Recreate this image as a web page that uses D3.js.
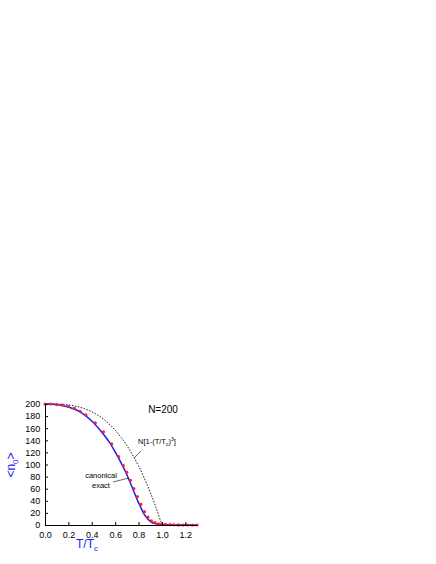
<!DOCTYPE html>
<html><head><meta charset="utf-8">
<script src="https://cdn.jsdelivr.net/npm/d3@7"></script>
<style>body{margin:0;background:#fff}text{font-family:"Liberation Sans",Arial,sans-serif}</style>
</head><body><div id="chart"></div>
<script>
// canonical points (red) and exact curve (blue)
var canonT = [0,0.05,0.1,0.15,0.2,0.25,0.3,0.35,0.43,0.5,0.57,0.63,0.67,0.7,0.73,0.76,0.79,0.82,0.85,0.88,0.91,0.94,0.97,1.0,1.03,1.07,1.1,1.14,1.18,1.22,1.26,1.3];
var canonN = [200,200,199,198,196,193,188,182,169,154,134,113,98,87,74,60,47,34,22,13,7,4,2,1.5,1,0.5,0.3,0.2,0,0,0,0];
var exactT = [0,0.1,0.2,0.3,0.4,0.5,0.55,0.6,0.65,0.7,0.75,0.8,0.85,0.9,0.95,1.0,1.1,1.2,1.3];
var exactN = [200,199,195,187,172,150,137,121,103,83,60,37,17,6,2,0.8,0.2,0,0];
// N[1-(T/Tc)^3]
var bulkT = [0,0.1,0.2,0.3,0.4,0.5,0.6,0.7,0.75,0.8,0.85,0.9,0.95,1.0];
var bulkN = [200,199.8,198.4,194.6,187.2,175,156.8,131.4,115.6,97.6,77.2,54.2,28.5,0];
var xTicks = [0,0.2,0.4,0.6,0.8,1.0,1.2];
var yTicks = d3.range(0,201,20);

var svg = d3.select("#chart").append("svg").attr("width",436).attr("height",564);
var x = d3.scaleLinear().domain([0,1.3]).range([45,197]);
var y = d3.scaleLinear().domain([0,200]).range([525,404]);

var line = d3.line().x(d=>x(d[0])).y(d=>y(d[1])).curve(d3.curveMonotoneX);
svg.append("path").datum(d3.zip(bulkT,bulkN)).attr("d",line)
  .attr("fill","none").attr("stroke","#000").attr("stroke-width",0.9).attr("stroke-dasharray","1.5,1.5");
svg.append("path").datum(d3.zip(exactT,exactN)).attr("d",line)
  .attr("fill","none").attr("stroke","#1a1aff").attr("stroke-width",1.5);
svg.selectAll("circle.c").data(d3.zip(canonT,canonN)).enter().append("circle")
  .attr("cx",d=>x(d[0])).attr("cy",d=>y(d[1])).attr("r",1.6).attr("fill","#ff2020");

var gx = svg.append("g").attr("transform","translate(0,525)")
  .call(d3.axisBottom(x).tickValues(xTicks).tickFormat(d3.format(".1f")).tickSizeInner(-3).tickSizeOuter(0));
var gy = svg.append("g").attr("transform","translate(45,0)")
  .call(d3.axisLeft(y).tickValues(yTicks).tickSizeInner(-3).tickSizeOuter(0));
[gx,gy].forEach(g=>{g.selectAll("text").attr("font-size",9).attr("fill","#000").attr("font-family","Liberation Sans, Arial");
  g.select(".domain").attr("stroke","#000");});
gx.selectAll("text").attr("dy","1.1em");
gy.selectAll("text").attr("dx","-0.2em");

svg.append("text").attr("x",87).attr("y",548).attr("text-anchor","middle").attr("fill","#1a1aff").attr("font-size",12)
  .html('T/T<tspan font-size="8" dy="3">c</tspan>');
svg.append("text").attr("transform","translate(15,465) rotate(-90)").attr("text-anchor","middle").attr("fill","#1a1aff").attr("font-size",12)
  .html('&lt;n<tspan font-size="8" dy="3">0</tspan><tspan dy="-3">&gt;</tspan>');

svg.append("text").attr("x",163).attr("y",413).attr("text-anchor","middle").attr("font-size",10).text("N=200");
svg.append("text").attr("x",138).attr("y",444).attr("font-size",7.5)
  .html('N[1-(T/T<tspan font-size="5" dy="2">c</tspan><tspan dy="-2">)</tspan><tspan font-size="5" dy="-3">3</tspan><tspan dy="3">]</tspan>');
svg.append("line").attr("x1",141).attr("y1",451).attr("x2",134).attr("y2",458).attr("stroke","#000").attr("stroke-width",0.6);
svg.append("text").attr("x",101).attr("y",478).attr("text-anchor","middle").attr("font-size",7.5).text("canonical");
svg.append("text").attr("x",101).attr("y",488).attr("text-anchor","middle").attr("font-size",7.5).text("exact");
svg.append("line").attr("x1",113).attr("y1",482).attr("x2",129).attr("y2",478).attr("stroke","#000").attr("stroke-width",0.6);
</script></body></html>
